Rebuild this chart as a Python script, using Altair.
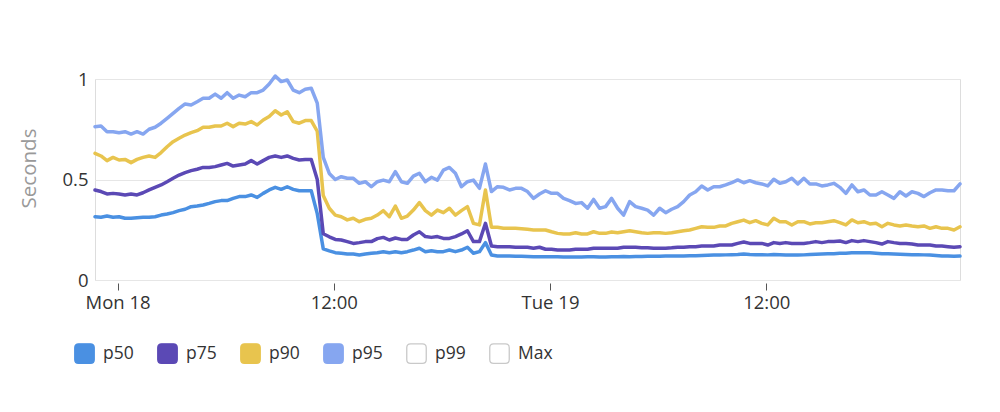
import altair as alt
import pandas as pd

# ---- data (20-minute samples) ----
start = "2024-11-17 22:45"
n_points = 145
step_minutes = 20

line_names = ["p50", "p75", "p90", "p95"]
line_colors = ["#4a90e2", "#5b49b5", "#e8c44e", "#86a6f0"]
series_names = ["p50", "p75", "p90", "p95", "p99", "Max"]
series_fills = ["#4a90e2", "#5b49b5", "#e8c44e", "#86a6f0", "#ffffff", "#ffffff"]
series_strokes = ["#4a90e2", "#5b49b5", "#e8c44e", "#86a6f0", "#c9c9c9", "#c9c9c9"]

p95 = [0.763, 0.766, 0.738, 0.738, 0.733, 0.738, 0.726, 0.738, 0.726, 0.75,
       0.76, 0.78, 0.804, 0.829, 0.854, 0.876, 0.871, 0.887, 0.904, 0.904,
       0.925, 0.904, 0.932, 0.904, 0.92, 0.912, 0.932, 0.932, 0.945, 0.975,
       1.015, 0.987, 0.995, 0.945, 0.932, 0.949, 0.954, 0.88, 0.61, 0.53,
       0.50, 0.514, 0.506, 0.506, 0.481, 0.489, 0.464, 0.489, 0.497, 0.489,
       0.539, 0.489, 0.481, 0.517, 0.531, 0.489, 0.511, 0.497, 0.547, 0.56,
       0.531, 0.464, 0.489, 0.497, 0.456, 0.577, 0.44, 0.464, 0.461, 0.448,
       0.456, 0.456, 0.44, 0.406, 0.428, 0.444, 0.431, 0.431, 0.406, 0.395,
       0.381, 0.385, 0.357, 0.401, 0.357, 0.365, 0.406, 0.357, 0.323, 0.39,
       0.365, 0.357, 0.348, 0.323, 0.357, 0.335, 0.352, 0.365, 0.39, 0.423,
       0.439, 0.468, 0.448, 0.464, 0.464, 0.473, 0.484, 0.498, 0.484, 0.494,
       0.484, 0.478, 0.468, 0.501, 0.481, 0.489, 0.506, 0.478, 0.506, 0.478,
       0.478, 0.468, 0.473, 0.481, 0.461, 0.431, 0.473, 0.439, 0.448, 0.423,
       0.423, 0.439, 0.423, 0.406, 0.439, 0.418, 0.439, 0.431, 0.415, 0.434,
       0.448, 0.448, 0.444, 0.444, 0.478]

p90 = [0.63, 0.617, 0.594, 0.61, 0.597, 0.60, 0.584, 0.60, 0.61, 0.617,
       0.61, 0.634, 0.663, 0.688, 0.705, 0.721, 0.733, 0.743, 0.76, 0.76,
       0.766, 0.766, 0.78, 0.763, 0.78, 0.776, 0.788, 0.771, 0.796, 0.813,
       0.842, 0.821, 0.837, 0.788, 0.78, 0.793, 0.793, 0.74, 0.42, 0.357,
       0.323, 0.315, 0.299, 0.307, 0.29, 0.302, 0.307, 0.323, 0.345, 0.315,
       0.368, 0.307, 0.318, 0.348, 0.385, 0.345, 0.323, 0.348, 0.335, 0.357,
       0.323, 0.345, 0.365, 0.282, 0.274, 0.448, 0.262, 0.262, 0.257, 0.257,
       0.257, 0.255, 0.252, 0.249, 0.249, 0.249, 0.24, 0.232, 0.229, 0.229,
       0.235, 0.229, 0.229, 0.24, 0.232, 0.232, 0.239, 0.235, 0.24, 0.245,
       0.24, 0.235, 0.232, 0.235, 0.235, 0.232, 0.235, 0.24, 0.245, 0.249,
       0.257, 0.265, 0.262, 0.262, 0.269, 0.269, 0.282, 0.29, 0.298, 0.285,
       0.295, 0.282, 0.274, 0.307, 0.29, 0.29, 0.274, 0.29, 0.29, 0.279,
       0.285, 0.285, 0.29, 0.295, 0.285, 0.274, 0.299, 0.285, 0.29, 0.279,
       0.282, 0.265, 0.282, 0.274, 0.269, 0.274, 0.269, 0.265, 0.269, 0.257,
       0.265, 0.257, 0.257, 0.249, 0.265]

p75 = [0.448, 0.44, 0.428, 0.431, 0.428, 0.423, 0.428, 0.423, 0.434, 0.448,
       0.461, 0.473, 0.489, 0.506, 0.522, 0.534, 0.544, 0.551, 0.56, 0.56,
       0.564, 0.572, 0.58, 0.567, 0.572, 0.577, 0.594, 0.577, 0.594, 0.61,
       0.617, 0.61, 0.617, 0.605, 0.597, 0.60, 0.60, 0.50, 0.23, 0.215,
       0.202, 0.199, 0.191, 0.182, 0.186, 0.191, 0.191, 0.206, 0.212, 0.199,
       0.209, 0.202, 0.202, 0.224, 0.24, 0.216, 0.212, 0.216, 0.207, 0.207,
       0.216, 0.229, 0.245, 0.191, 0.191, 0.282, 0.169, 0.166, 0.166, 0.166,
       0.163, 0.163, 0.163, 0.158, 0.163, 0.153, 0.153, 0.149, 0.149, 0.149,
       0.153, 0.153, 0.153, 0.158, 0.158, 0.158, 0.158, 0.158, 0.163, 0.163,
       0.163, 0.161, 0.161, 0.158, 0.158, 0.158, 0.16, 0.163, 0.163, 0.166,
       0.166, 0.169, 0.169, 0.169, 0.174, 0.174, 0.174, 0.182, 0.189, 0.182,
       0.182, 0.182, 0.174, 0.186, 0.182, 0.186, 0.182, 0.182, 0.182, 0.186,
       0.191, 0.186, 0.191, 0.191, 0.194, 0.186, 0.196, 0.191, 0.196, 0.191,
       0.186, 0.179, 0.191, 0.186, 0.182, 0.182, 0.179, 0.174, 0.174, 0.174,
       0.169, 0.169, 0.166, 0.163, 0.166]

p50 = [0.315, 0.312, 0.318, 0.312, 0.315, 0.307, 0.307, 0.31, 0.312, 0.312,
       0.315, 0.323, 0.328, 0.335, 0.345, 0.352, 0.365, 0.368, 0.373, 0.381,
       0.39, 0.395, 0.395, 0.406, 0.415, 0.415, 0.423, 0.411, 0.431, 0.448,
       0.461, 0.451, 0.464, 0.451, 0.444, 0.444, 0.444, 0.33, 0.155, 0.145,
       0.136, 0.133, 0.129, 0.129, 0.124, 0.129, 0.133, 0.136, 0.141, 0.136,
       0.141, 0.136, 0.141, 0.149, 0.158, 0.141, 0.146, 0.141, 0.141, 0.149,
       0.141, 0.149, 0.163, 0.133, 0.141, 0.186, 0.124, 0.119, 0.119, 0.119,
       0.118, 0.118, 0.117, 0.116, 0.116, 0.116, 0.116, 0.116, 0.115, 0.115,
       0.115, 0.115, 0.116, 0.116, 0.115, 0.115, 0.116, 0.116, 0.117, 0.116,
       0.117, 0.117, 0.118, 0.118, 0.118, 0.119, 0.119, 0.12, 0.12, 0.121,
       0.121, 0.122, 0.123, 0.124, 0.124, 0.125, 0.126, 0.127, 0.129, 0.127,
       0.126, 0.126, 0.125, 0.127, 0.126, 0.124, 0.124, 0.124, 0.125, 0.127,
       0.128, 0.129, 0.13, 0.131, 0.133, 0.133, 0.135, 0.136, 0.136, 0.135,
       0.133, 0.131, 0.13, 0.129, 0.128, 0.127, 0.126, 0.126, 0.125, 0.124,
       0.122, 0.12, 0.119, 0.118, 0.119]

y_ticks = [0, 0.5, 1]
x_tick_times = ["2024-11-18T00:00", "2024-11-18T12:00", "2024-11-19T00:00", "2024-11-19T12:00"]

# ---- build table ----
times = pd.date_range(start, periods=n_points, freq=f"{step_minutes}min")
time_str = [t.strftime("%Y-%m-%dT%H:%M:%S") for t in times]
rows = []
for name, vals in zip(line_names, [p50, p75, p90, p95]):
    for t, v in zip(time_str, vals):
        rows.append({"time": t, "value": v, "series": name})
df = pd.DataFrame(rows)


def dt(s):
    t = pd.Timestamp(s)
    return alt.DateTime(year=t.year, month=t.month, date=t.day, hours=t.hour, minutes=t.minute)


x_domain = [dt(times[0]), dt(times[-1])]

rounded_square = ("M -1 -0.6 Q -1 -1 -0.6 -1 L 0.6 -1 Q 1 -1 1 -0.6 L 1 0.6 "
                  "Q 1 1 0.6 1 L -0.6 1 Q -1 1 -1 0.6 Z")

legend = alt.Legend(
    title=None,
    orient="none",
    legendX=-21,
    legendY=264,
    direction="horizontal",
    columns=6,
    gridAlign="all",
    columnPadding=17,
    symbolType=rounded_square,
    symbolSize=380,
    symbolStrokeWidth=1.3,
    symbolOpacity=1,
    labelFontSize=17.5,
    labelFont="Open Sans",
    labelColor="#333333",
    labelOffset=8,
    padding=0,
)

x_enc = alt.X(
    "time:T",
    scale=alt.Scale(domain=x_domain),
    axis=alt.Axis(
        title=None,
        values=[dt(s) for s in x_tick_times],
        labelExpr="hours(datum.value) == 0 ? timeFormat(datum.value, '%a %d') : timeFormat(datum.value, '%H:%M')",
        grid=False,
        domain=False,
        ticks=True,
        tickSize=7,
        tickColor="#555555",
        tickWidth=1,
        offset=3,
        labelPadding=3,
        labelFontSize=18.5,
        labelFont="Open Sans",
        labelColor="#333333",
        labelFlush=False,
    ),
)

y_enc = alt.Y(
    "value:Q",
    scale=alt.Scale(domain=[0, 1], nice=False, zero=True),
    axis=alt.Axis(
        title="Seconds",
        values=y_ticks,
        format="~g",
        grid=True,
        gridColor="#e6e6e6",
        gridWidth=1,
        domain=False,
        ticks=False,
        labelPadding=7,
        labelFontSize=18.5,
        labelFont="Open Sans",
        labelColor="#333333",
        titleFontSize=20.5,
        titleFont="Open Sans",
        titleFontWeight="normal",
        titleColor="#999999",
        titleX=-60,
        titleY=89,
        titleAngle=-90,
        titleAlign="center",
        titleBaseline="alphabetic",
    ),
)

lines = alt.Chart(df).mark_line(strokeWidth=3.5, strokeJoin="round", strokeCap="round").encode(
    x=x_enc,
    y=y_enc,
    color=alt.Color(
        "series:N",
        scale=alt.Scale(domain=line_names, range=line_colors),
        legend=None,
    ),
)

legend_layer = alt.Chart(df).mark_point(filled=True, opacity=0, size=1).encode(
    x=alt.X("time:T"),
    y=alt.Y("value:Q"),
    fill=alt.Fill("series:N", scale=alt.Scale(domain=series_names, range=series_fills), legend=legend),
    stroke=alt.Stroke("series:N", scale=alt.Scale(domain=series_names, range=series_strokes), legend=legend),
)

chart = alt.layer(lines, legend_layer).properties(
    width=865,
    height=201,
    autosize=alt.AutoSizeParams(type="none"),
    padding={"left": 87, "top": 71, "right": 32, "bottom": 110},
).configure_view(stroke=None).configure(font="Open Sans")

chart.save("out.html", embed_options={"renderer": "svg", "actions": False})
